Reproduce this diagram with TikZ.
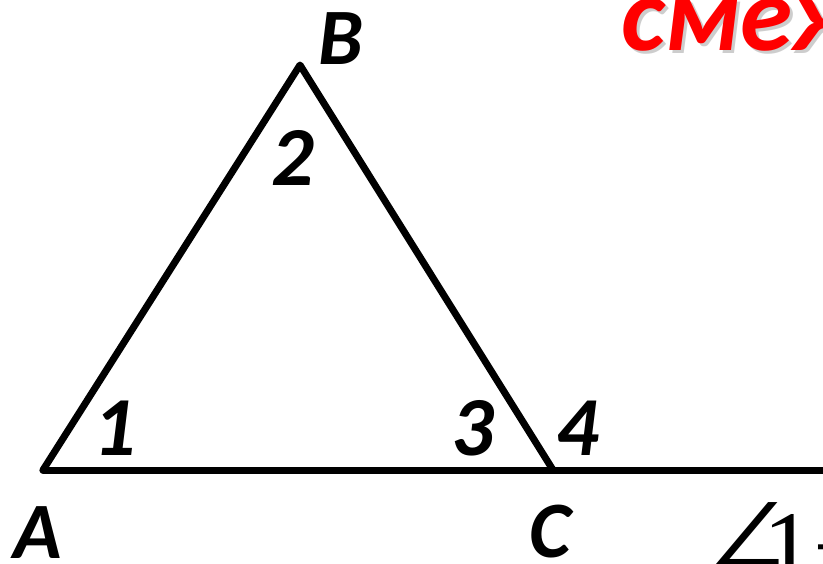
\documentclass[tikz,border=0pt]{standalone}
\usepackage{fontspec}
\newfontfamily\labfont[BoldItalicFont={Carlito Bold Italic}]{Carlito}
\newfontfamily\serfont{Liberation Serif}
\newfontfamily\angfont{DejaVu Serif}
\begin{document}
\begin{tikzpicture}[x=1pt,y=-1pt,
  lab/.style={inner sep=0pt,anchor=base west,font=\labfont\bfseries\itshape\fontsize{80}{80}\selectfont},
  num/.style={inner sep=0pt,anchor=base west,font=\labfont\bfseries\itshape\fontsize{84}{84}\selectfont},
  ttl/.style={inner sep=0pt,anchor=base west,font=\labfont\bfseries\itshape\fontsize{106}{106}\selectfont},
  side/.style={line width=7pt,line join=round,line cap=round}]
\useasboundingbox (0,0) rectangle (823,563);
\fill[white] (0,0) rectangle (823,563);
\coordinate (A) at (43,470);
\coordinate (B) at (300,65);
\coordinate (C) at (553,470);
\coordinate (E) at (840,470);
\draw[side] (A) -- (B) -- (C);
\draw[side] (A) -- (E);
\node[lab] (lB) at (318,64) {B};
\node[lab] (lA) at (13,558) {A};
\node[lab] (lC) at (529,557) {C};
\node[num] (n2) at (271,185) {2};
\node[num] (n1) at (93,455) {1};
\node[num] (n3) at (451,455) {3};
\node[num] (n4) at (556,455) {4};
\node[ttl,text=gray!55,opacity=0.7] (sh) at (624,53) {смеж};
\node[ttl,text=red] (title) at (621,50) {смеж};
\node[inner sep=0pt,anchor=base west,font=\serfont\fontsize{100}{100}\selectfont] (f) at (696,580) {{\angfont\fontsize{118}{118}\selectfont ∠}\kern-32pt 1+};
\end{tikzpicture}
\end{document}
